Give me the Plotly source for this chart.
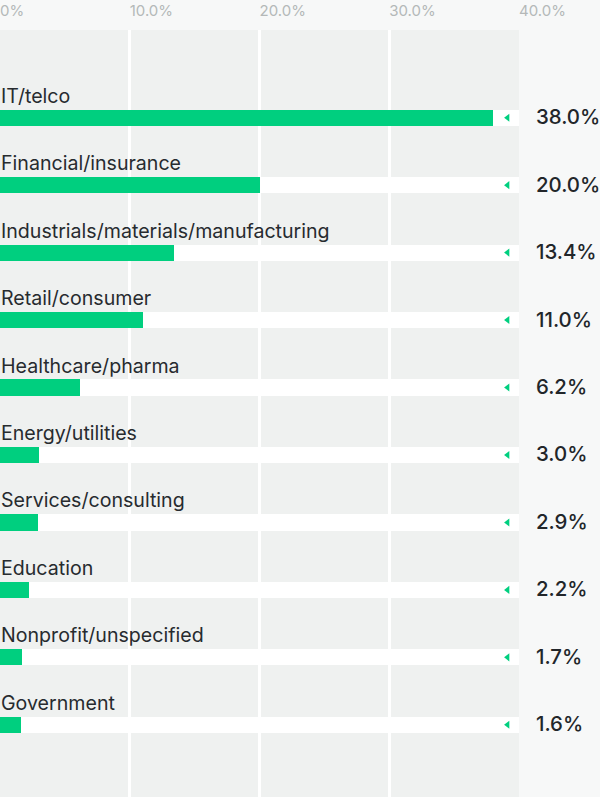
import plotly.graph_objects as go

categories = ["IT/telco", "Financial/insurance", "Industrials/materials/manufacturing",
              "Retail/consumer", "Healthcare/pharma", "Energy/utilities",
              "Services/consulting", "Education", "Nonprofit/unspecified", "Government"]
values = [38.0, 20.0, 13.4, 11.0, 6.2, 3.0, 2.9, 2.2, 1.7, 1.6]
tick_vals = [0, 10, 20, 30, 40]
tick_text = ["0%", "10.0%", "20.0%", "30.0%", "40.0%"]
axis_max = 40

GREEN = "#00cf7f"
FONT = "Inter"

fig = go.Figure()
fig.add_trace(go.Bar(
    y=categories, x=[axis_max] * len(categories), orientation="h",
    marker=dict(color="white", line=dict(width=0)), width=0.24,
    hoverinfo="skip", showlegend=False))
fig.add_trace(go.Bar(
    y=categories, x=values, orientation="h",
    marker=dict(color=GREEN, line=dict(width=0)), width=0.24,
    showlegend=False))
fig.add_trace(go.Scatter(
    y=categories, x=[axis_max * 0.978] * len(categories), mode="markers",
    marker=dict(symbol="triangle-left", size=7, color=GREEN),
    hoverinfo="skip", showlegend=False))

for c, v in zip(categories, values):
    fig.add_annotation(x=0, y=c, xref="x", yref="y", text=c, showarrow=False,
                       xanchor="left", yanchor="bottom", yshift=8, xshift=-1,
                       font=dict(family=FONT, size=19.6, color="#272b2f"))
    fig.add_annotation(x=axis_max, y=c, xref="x", yref="y", text=f"{v:.1f}%",
                       showarrow=False, xanchor="left", yanchor="middle", xshift=15, yshift=1,
                       font=dict(family=FONT, size=20.4, color="#22262a", weight=500))

fig.update_layout(
    width=600, height=797,
    margin=dict(l=0, r=81, t=30, b=0),
    paper_bgcolor="#f7f8f8", plot_bgcolor="#eff1f0",
    barmode="overlay", bargap=0,
    font=dict(family=FONT),
    xaxis=dict(range=[0, axis_max], side="top", tickvals=tick_vals, ticktext=tick_text,
               ticklabelposition="outside right", ticklabelstandoff=10,
               showgrid=True, gridcolor="white",
               gridwidth=3, zeroline=False, showline=False, ticks="",
               tickfont=dict(family=FONT, size=15, color="#b4b8b8"), fixedrange=True),
    yaxis=dict(categoryorder="array", categoryarray=categories,
               range=[10.07, -1.3], showticklabels=False, showgrid=False,
               zeroline=False, showline=False, ticks="", fixedrange=True),
)

fig.write_html("out.html", config={"displayModeBar": False},
               post_script="document.body.style.margin='0';document.body.style.overflow='hidden';")
